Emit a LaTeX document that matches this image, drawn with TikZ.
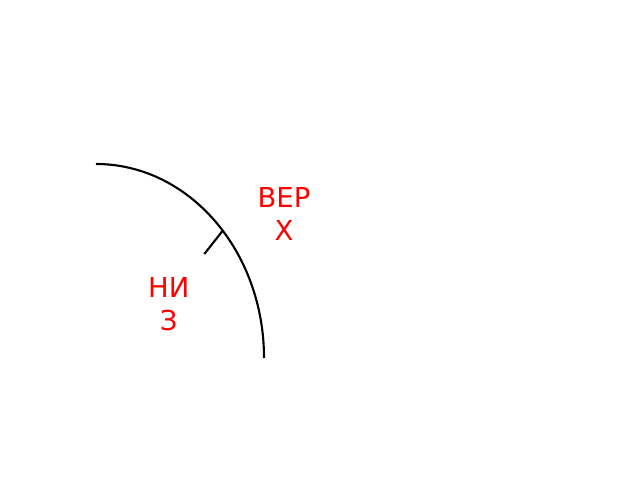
\documentclass[tikz,border=0pt]{standalone}
\usepackage{fontspec}
\setmainfont{DejaVu Sans}
\usepackage{tikz}
\usetikzlibrary{positioning, calc}

\begin{document}
\begin{tikzpicture}[x=0.025cm, y=-0.025cm,
    label/.style={text=red, align=center, inner sep=0pt,
                  font=\fontsize{19.5}{23.5}\selectfont}]
      % Page, for reference
      \useasboundingbox (0,0) rectangle (640,480);

      % Arc. The numbers come from tracing over the reference
      \coordinate (top) at (96,164);
      \draw[black,line width=1.5pt] (top)
           arc[start angle=90, end angle=0, x radius=168, y radius=-194]
           coordinate (bottom);

      % Tick on the arc
      \coordinate (foot) at (222.7,230.7);
      \coordinate (tip)  at (204.3,254);
      \draw[black,line width=1.5pt] (foot) -- (tip);

      % Labels
      \node[label] (up)   at (284,214)   {ВЕР\\Х};
      \node[label] (down) at (168.7,304) {НИ\\З};
  \end{tikzpicture}
\end{document}
